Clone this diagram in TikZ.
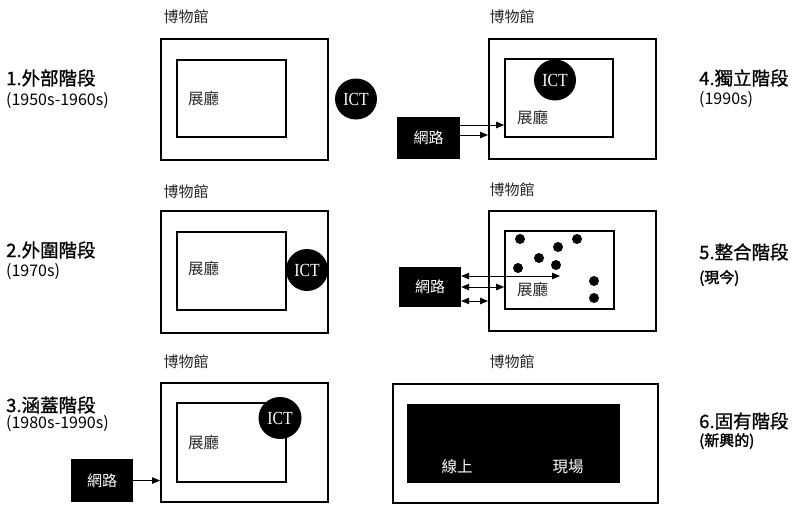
\documentclass[tikz,border=0pt]{standalone}
\usepackage{fontspec}
\usepackage{graphicx}
\setmainfont{Noto Sans CJK TC}
\newfontfamily\ictfont{Liberation Serif}
\newfontfamily\stagefont[FakeBold=1]{Noto Sans CJK TC}
\newfontfamily\boldcjk[FakeBold=2]{Noto Sans CJK TC}
\newcommand{\ictlabel}{\scalebox{0.85}[1]{ICT}}
\usetikzlibrary{arrows.meta,calc,shapes.geometric}
\tikzset{
  outerbox/.style={draw=black,line width=2pt,rectangle,inner sep=0pt},
  innerbox/.style={draw=black,line width=1.7pt,rectangle,inner sep=0pt,minimum width=109pt,minimum height=78pt},
  ict/.style={ellipse,fill=black,inner sep=0pt,minimum width=42pt,minimum height=41pt,text=white,font=\ictfont\fontsize{18.5}{18}\selectfont},
  netbox/.style={fill=black,rectangle,inner sep=0pt,text=white,font=\fontsize{15}{15}\selectfont},
  museum/.style={font=\fontsize{15}{15}\selectfont,text=black!85},
  hall/.style={font=\fontsize{15.5}{16}\selectfont,anchor=west,inner sep=0pt,text=black!85},
  stage/.style={font=\stagefont\fontsize{18.5}{18}\selectfont,anchor=west,inner sep=0pt},
  period/.style={font=\fontsize{16}{16}\selectfont,anchor=west,inner sep=0pt},
  bperiod/.style={font=\boldcjk\fontsize{15}{15}\selectfont,anchor=west,inner sep=0pt},
  arr/.style={line width=0.8pt,-{Triangle[length=8pt,width=6.5pt]}},
  darr/.style={line width=0.8pt,{Triangle[length=8pt,width=6.5pt]}-{Triangle[length=8pt,width=6.5pt]}},
  dot/.style={circle,fill=black,inner sep=0pt,minimum size=10pt}
}
\begin{document}
\begin{tikzpicture}[x=1pt,y=-1pt]
\useasboundingbox (0,0) rectangle (800,504);
% ---------- Panel 1 ----------
\node[museum] (mu1) at (186,17) {博物館};
\node[outerbox,minimum width=167pt,minimum height=121pt] (out1) at (244.5,99.5) {};
\node[innerbox,minimum height=77pt] (in1) at (231.5,98.5) {};
\node[hall] (h1) at (188,99) {展廳};
\node[ict] (ict1) at (356,99) {\ictlabel};
\node[stage] (s1) at (6,78) {1.外部階段};
\node[period] (p1) at (6,101) {(1950s-1960s)};
% ---------- Panel 2 ----------
\node[museum] (mu2) at (186,192) {博物館};
\node[outerbox,minimum width=167pt,minimum height=122pt] (out2) at (244.5,272) {};
\node[innerbox] (in2) at (231.5,271) {};
\node[hall] (h2) at (188,269) {展廳};
\node[ict,minimum height=42pt] (ict2) at (307,270) {\ictlabel};
\node[stage] (s2) at (6,250) {2.外圍階段};
\node[period] (p2) at (6,272) {(1970s)};
% ---------- Panel 3 ----------
\node[museum] (mu3) at (186,362) {博物館};
\node[outerbox,minimum width=167pt,minimum height=119pt] (out3) at (244.5,442.5) {};
\node[innerbox,minimum height=79pt] (in3) at (231.5,442.5) {};
\node[hall] (h3) at (188,443) {展廳};
\node[ict,minimum width=43pt,minimum height=42pt] (ict3) at (280,418) {\ictlabel};
\node[netbox,minimum width=62pt,minimum height=43pt] (net3) at (102,480.5) {網路};
\draw[arr] (net3.east) -- (net3.east -| out3.west);
\node[stage] (s3) at (6,405) {3.涵蓋階段};
\node[period] (p3) at (6,424) {(1980s-1990s)};
% ---------- Panel 4 ----------
\node[museum] (mu4) at (512,17) {博物館};
\node[outerbox,minimum width=167pt,minimum height=120pt] (out4) at (572.5,99) {};
\node[innerbox,minimum width=108pt] (in4) at (559,98) {};
\node[ict] (ict4) at (555,80) {\ictlabel};
\node[hall] (h4) at (517,118) {展廳};
\node[netbox,minimum width=63pt,minimum height=42pt] (net4) at (428.5,138) {網路};
\coordinate (a4) at ([yshift=13pt]net4.east);
\coordinate (b4) at ([yshift=3pt]net4.east);
\draw[arr] (a4) -- (a4 -| in4.west);
\draw[arr] (b4) -- (b4 -| out4.west);
\node[stage] (s4) at (699,78) {4.獨立階段};
\node[period] (p4) at (699,100) {(1990s)};
% ---------- Panel 5 ----------
\node[museum] (mu5) at (512,190) {博物館};
\node[outerbox,minimum width=167pt,minimum height=120pt] (out5) at (572.5,271) {};
\node[innerbox] (in5) at (559.5,270) {};
\node[hall] (h5) at (517,290) {展廳};
\node[dot] (d1) at (520,239) {};
\node[dot] (d2) at (558,247) {};
\node[dot] (d3) at (577,239) {};
\node[dot] (d4) at (539,258) {};
\node[dot] (d5) at (518,268) {};
\node[dot] (d6) at (556,265) {};
\node[dot] (d7) at (594,281) {};
\node[dot] (d8) at (594,298) {};
\node[netbox,minimum width=62pt,minimum height=40pt] (net5) at (430,287) {網路};
\coordinate (a5) at ([yshift=11pt]net5.east);
\coordinate (e5) at (560,276);
\coordinate (b5) at (net5.east);
\coordinate (c5) at ([yshift=-14pt]net5.east);
\draw[darr] (a5) -- (e5);
\draw[darr] (b5) -- (b5 -| in5.west);
\draw[darr] (c5) -- (c5 -| out5.west);
\node[stage] (s5) at (699,252) {5.整合階段};
\node[bperiod] (p5) at (699,278) {(現今)};
% ---------- Panel 6 ----------
\node[museum] (mu6) at (512,362) {博物館};
\node[outerbox,minimum width=265pt,minimum height=119pt] (out6) at (525.5,443) {};
\node[fill=black,rectangle,inner sep=0pt,minimum width=213pt,minimum height=79pt] (blk6) at (513.5,443.5) {};
\node[text=white,font=\fontsize{15.5}{16}\selectfont] (on6) at (457,467) {線上};
\node[text=white,font=\fontsize{15.5}{16}\selectfont] (site6) at (568,467) {現場};
\node[stage] (s6) at (699,421) {6.固有階段};
\node[bperiod] (p6) at (699,441) {(新興的)};
\end{tikzpicture}
\end{document}
